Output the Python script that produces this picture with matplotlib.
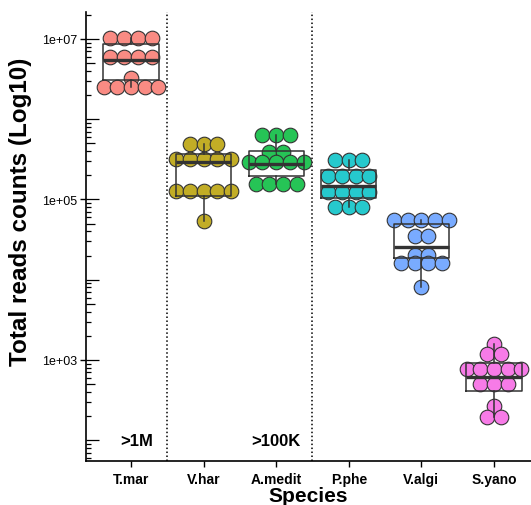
import matplotlib
matplotlib.use("Agg")
import matplotlib.pyplot as plt
import numpy as np

plt.rcParams['font.family'] = ['Liberation Sans', 'DejaVu Sans']

# ---- data ----
species = ["T.mar", "V.har", "A.medit", "P.phe", "V.algi", "S.yano"]
colors = ["#F8766D", "#B79F00", "#00BA38", "#00BFC4", "#619CFF", "#F564E3"]

# dot rows (bin centre values) and number of dots in each row
tmar_rows = [1.03e7, 5.97e6, 3.27e6, 2.52e6]
tmar_counts = [4, 4, 1, 5]
vhar_rows = [4.92e5, 3.20e5, 1.28e5, 5.4e4]
vhar_counts = [3, 5, 5, 1]
amed_rows = [6.41e5, 3.91e5, 2.96e5, 1.56e5]
amed_counts = [3, 2, 5, 4]
pphe_rows = [3.13e5, 1.98e5, 1.25e5, 8.0e4]
pphe_counts = [3, 4, 4, 3]
valg_rows = [5.55e4, 3.48e4, 2.03e4, 1.60e4, 8.05e3]
valg_counts = [5, 2, 2, 4, 1]
syan_rows = [1585, 1189, 773, 502, 269, 193]
syan_counts = [1, 2, 5, 3, 1, 2]

# boxplot statistics
box_whishi = [1.03e7, 4.92e5, 6.41e5, 3.13e5, 5.55e4, 1585]
box_q3 = [8.67e6, 3.69e5, 4.02e5, 2.33e5, 4.95e4, 918]
box_med = [5.47e6, 2.93e5, 2.77e5, 1.49e5, 2.54e4, 620]
box_q1 = [3.08e6, 1.11e5, 1.96e5, 1.04e5, 1.87e4, 414]
box_whislo = [2.52e6, 5.4e4, 1.56e5, 8.0e4, 8.05e3, 193]

group_labels = [">1M", ">100K"]
group_label_pos = [1.08, 3]
separators = [1.5, 3.5]

all_rows = [tmar_rows, vhar_rows, amed_rows, pphe_rows, valg_rows, syan_rows]
all_counts = [tmar_counts, vhar_counts, amed_counts, pphe_counts, valg_counts, syan_counts]

# ---- figure ----
W, H = 531, 506
fig = plt.figure(figsize=(W / 100, H / 100), dpi=100)
ax_left, ax_right, ax_top, ax_bot = 86, 531, 13, 462
ax = fig.add_axes([ax_left / W, (H - ax_bot) / H, (ax_right - ax_left) / W, (ax_bot - ax_top) / H])
ax.set_yscale('log')
ax.set_ylim(10 ** 1.741, 10 ** 7.336)
ax.set_xlim(0.38, 6.51)

px_per_unit = (ax_right - ax_left) / (6.51 - 0.38)
dot_step_px = 13.7
dot_d = 14.6  # px
step = dot_step_px / px_per_unit


def blend(c, a=0.85):
    rgb = np.array(matplotlib.colors.to_rgb(c))
    return tuple(rgb * a + (1 - a))


for i, (rows, counts) in enumerate(zip(all_rows, all_counts)):
    xs, ys = [], []
    for v, n in zip(rows, counts):
        for j in range(n):
            xs.append(i + 1 + (j - (n - 1) / 2) * step)
            ys.append(v)
    ax.scatter(xs, ys, s=(dot_d * 0.72) ** 2, facecolor=blend(colors[i]),
               edgecolor='#333333', linewidth=0.8, zorder=2, clip_on=False)

stats = []
for k in range(len(species)):
    stats.append(dict(med=box_med[k], q1=box_q1[k], q3=box_q3[k],
                      whislo=box_whislo[k], whishi=box_whishi[k], fliers=[]))
ax.bxp(stats, positions=np.arange(1, len(species) + 1), widths=0.76,
       showfliers=False, showcaps=False, patch_artist=False, manage_ticks=False,
       boxprops=dict(color='#333333', linewidth=1.1),
       whiskerprops=dict(color='#333333', linewidth=1.1),
       medianprops=dict(color='#333333', linewidth=2.4, solid_capstyle='butt'),
       zorder=3)

for s in separators:
    ax.axvline(s, color='black', linestyle=(0, (1, 1.6)), linewidth=1.1, zorder=1)

for lab, p in zip(group_labels, group_label_pos):
    ax.text(p, 98, lab, ha='center', va='center', fontsize=12, fontweight='bold')

# log ticks inside
ax_w = ax_right - ax_left
trans = ax.get_yaxis_transform()
for k in range(1, 8):
    for m in range(1, 10):
        v = m * 10 ** k
        if 10 ** 1.741 <= v <= 10 ** 7.336:
            L = 13 if m == 1 else (8.5 if m == 5 else 4.5)
            ax.plot([0, L / ax_w], [v, v], transform=trans, color='black',
                    linewidth=0.9, solid_capstyle='butt', zorder=4, clip_on=False)

ax.set_yticks([1e3, 1e5, 1e7])
ax.set_yticklabels(["1e+03", "1e+05", "1e+07"])
ax.yaxis.set_minor_locator(matplotlib.ticker.NullLocator())
ax.tick_params(axis='y', which='major', length=4, width=1.0, labelsize=9, pad=2,
               direction='out', colors='black')
ax.set_xticks(np.arange(1, len(species) + 1))
ax.set_xticklabels(species, fontweight='bold')
ax.tick_params(axis='x', length=4, width=1.0, labelsize=10, pad=4)

for sp in ['top', 'right']:
    ax.spines[sp].set_visible(False)
for sp in ['left', 'bottom']:
    ax.spines[sp].set_linewidth(1.2)

ax.set_xlabel("Species", fontsize=15, fontweight='bold', labelpad=0)
ax.set_ylabel("Total reads counts (Log10)", fontsize=17.5, fontweight='bold')
ax.yaxis.set_label_coords(-54 / ax_w, (ax_bot - 212) / (ax_bot - ax_top))

fig.savefig("out.png", dpi=100)
